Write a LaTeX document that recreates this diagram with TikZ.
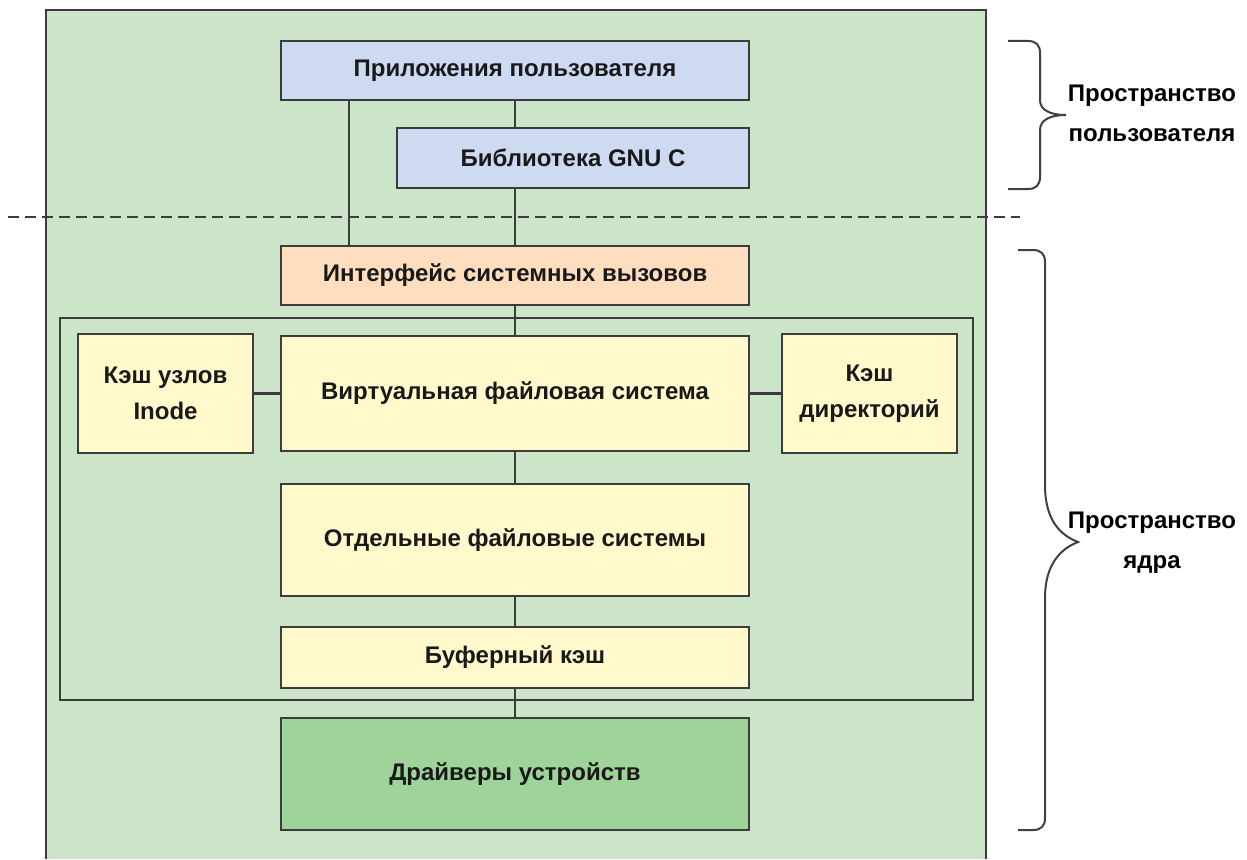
\documentclass[tikz,border=0pt]{standalone}
\usepackage{fontspec}
\setmainfont{Liberation Sans}
\definecolor{bggreen}{HTML}{CCE5C9}
\definecolor{userblue}{HTML}{CEDAF2}
\definecolor{sciorange}{HTML}{FFDEBF}
\definecolor{fsyellow}{HTML}{FFF9CC}
\definecolor{drvgreen}{HTML}{9ED39A}
\definecolor{edge}{HTML}{3C3C3C}
\begin{document}
\begin{tikzpicture}[x=1pt,y=-1pt,
  box/.style={draw=edge, line width=2.4pt, rectangle, inner sep=0pt, outer sep=0pt,
    font=\fontsize{24}{36}\selectfont\bfseries, align=center, text=black!90},
  link/.style={draw=edge, line width=2.4pt},
  brace/.style={draw=black!75, line width=2pt},
  sidelabel/.style={font=\fontsize{24}{40}\selectfont\bfseries, align=center, inner sep=0pt}]
\useasboundingbox (0,0) rectangle (1247,859);
% outer green area (open at bottom)
\fill[bggreen] (46,10) rectangle (986,859);
\draw[edge, line width=2.5pt] (46,859) -- (46,10) -- (986,10) -- (986,859);
% boxes
\node[box, fill=userblue, minimum width=468pt, minimum height=59pt] (app) at (515,70.5) {Приложения пользователя};
\node[box, fill=userblue, minimum width=352pt, minimum height=60pt] (glibc) at (573,158) {Библиотека GNU C};
\node[box, fill=sciorange, minimum width=468pt, minimum height=59pt] (sci) at (515,275.5) {Интерфейс системных вызовов};
\node[draw=edge, line width=2.4pt, rectangle, inner sep=0pt, minimum width=913pt, minimum height=382pt] (group) at (516.5,509) {};
\node[box, fill=fsyellow, minimum width=175pt, minimum height=119pt] (inode) at (165.5,393.5) {Кэш узлов\\Inode};
\node[box, fill=fsyellow, minimum width=468pt, minimum height=115pt] (vfs) at (515,393.5) {Виртуальная файловая система};
\node[box, fill=fsyellow, minimum width=175pt, minimum height=119pt] (dcache) at (869.5,393.5) {Кэш\\директорий};
\node[box, fill=fsyellow, minimum width=468pt, minimum height=112pt] (fs) at (515,540) {Отдельные файловые системы};
\node[box, fill=fsyellow, minimum width=468pt, minimum height=61pt] (buf) at (515,657.5) {Буферный кэш};
\node[box, fill=drvgreen, minimum width=468pt, minimum height=112pt] (drv) at (515,774) {Драйверы устройств};
% connectors
\coordinate (leftline) at (349,0);
\draw[link] (app.south -| leftline) -- (sci.north -| leftline);
\draw[link] (app.south) -- (glibc.north -| app.south);
\draw[link] (glibc.south -| sci.north) -- (sci.north);
\draw[link] (sci.south) -- (vfs.north);
\draw[link] (inode.east) -- (vfs.west);
\draw[link] (vfs.east) -- (dcache.west);
\draw[link] (vfs.south) -- (fs.north);
\draw[link] (fs.south) -- (buf.north);
\draw[link] (buf.south) -- (drv.north);
% dashed separator
\coordinate (dl) at (8,217);
\coordinate (dr) at (1020,217);
\draw[edge, line width=2.2pt, dash pattern=on 11pt off 6pt] (dl) -- (dr);
% braces
\draw[brace] (1008,41) -- (1028,41) .. controls (1036,41) and (1040,45) .. (1040,53)
  -- (1040,100) .. controls (1040,110) and (1050,115) .. (1066,115)
  .. controls (1050,115) and (1040,120) .. (1040,130)
  -- (1040,177) .. controls (1040,185) and (1036,189) .. (1028,189) -- (1008,189);
\draw[brace] (1018,250) -- (1033,250) .. controls (1041,250) and (1045,254) .. (1045,262)
  -- (1045,485) .. controls (1045,520) and (1060,535) .. (1078,542)
  .. controls (1060,549) and (1045,565) .. (1045,598)
  -- (1045,818) .. controls (1045,826) and (1041,830) .. (1033,830) -- (1018,830);
\node[sidelabel] (userlbl) at (1152,113) {Пространство\\пользователя};
\node[sidelabel] (kernlbl) at (1152,543) {Пространство\\ядра};
\end{tikzpicture}
\end{document}
